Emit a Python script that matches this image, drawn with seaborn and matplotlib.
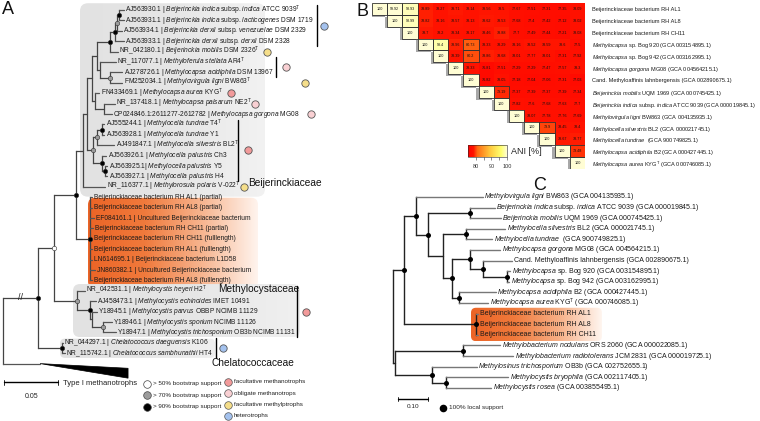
import re
import numpy as np
import pandas as pd
import matplotlib
matplotlib.use("Agg")
import matplotlib.pyplot as plt
import seaborn as sns
from matplotlib.colors import LinearSegmentedColormap, Normalize
from matplotlib.cm import ScalarMappable
from matplotlib.patches import FancyBboxPatch, Rectangle, Polygon

sns.set_theme(style="white")
plt.rcParams["font.family"] = ["Liberation Sans", "DejaVu Sans"]
plt.rcParams["mathtext.fontset"] = "custom"
plt.rcParams["mathtext.rm"] = "Liberation Sans"
plt.rcParams["mathtext.it"] = "Liberation Sans:italic"
plt.rcParams["mathtext.bf"] = "Liberation Sans:bold"

# ---------------- data ----------------
# panel A: 16S rRNA tree (branch lengths in substitutions/site, support: 95 >90%, 75 >70%, 55 >50%)
tree_a = """
((((((((((((a1:0.0046,a2:0.0046)95:0.0019,a3:0.0046)75:0.0019,a4:0.0083)95:0.0046,a5:0.0074)95:0.0120,
(a6:0.0148,(a7:0.0111,a8:0.0111)75:0.0093)0:0.0028)0:0.0046,
(a9:0.0037,(a10:0.0102,a11:0.0074)0:0.0083)0:0.0028)0:0.0046,
(((a12:0.0019,a13:0.0019)95:0.0046,a14:0.0157)75:0.0037,(a15:0.0037,(a16:0.0019,a17:0.0019)95:0.0028)95:0.0083)75:0.0056)0:0.0037,
a18:0.0204)0:0.0065,
(a19:0.0019,a20:0.0019,a21:0.0037,a22:0.0028,a23:0.0019,a24:0.0019,a25:0.0019,a26:0.0046,a27:0.0019)95:0.0130)95:0.0204,
(a28:0.0074,(a29:0.0056,(a30:0.0046,(a31:0.0083,a32:0.0120)75:0.0102)0:0.0019)95:0.0120)75:0.0213)55:0.0148,
(a33:0.0009,a34:0.0028)95:0.0222)95:0.0324,
typeI:0.0343);
"""
typeI_length = 0.0815

labels_a = [
    "AJ563930.1 | *Beijerinckia indica* subsp. *indica* ATCC 9039^T",
    "AJ563931.1 | *Beijerinckia indica* subsp. *lacticogenes* DSM 1719",
    "AJ563934.1 | *Beijerinckia derxii* subsp. *venezuelae* DSM 2329",
    "AJ563933.1 | *Beijerinckia derxii* subsp. *derxii* DSM 2328",
    "NR_042180.1 | *Beijerinckia mobilis* DSM 2326^T",
    "NR_117077.1 | *Methyloferula stellata* AR4^T",
    "AJ278726.1 | *Methylocapsa acidiphila* DSM 13967",
    "FM252034.1 | *Methylovirgula ligni* BW863^T",
    "FN433469.1 | *Methylocapsa aurea* KYG^T",
    "NR_137418.1 | *Methylocapsa palsarum* NE2^T",
    "CP024846.1:2611277-2612782 | *Methylocapsa gorgona* MG08",
    "AJ555244.1 | *Methylocella tundrae* T4^T",
    "AJ563928.1 | *Methylocella tundrae* Y1",
    "AJ491847.1 | *Methylocella silvestris* BL2^T",
    "AJ563926.1 | *Methylocella palustris* Ch3",
    "AJ563925.1| *Methylocella palustris* Y5",
    "AJ563927.1 | *Methylocella palustris* H4",
    "NR_116377.1 | *Methylorosula polaris* V-022^T",
    "Beijerinckiaceae bacterium RH AL1 (partial)",
    "Beijerinckiaceae bacterium RH AL8 (partial)",
    "EF084161.1 | Uncultured Beijerinckiaceae bacterium",
    "Beijerinckiaceae bacterium RH CH11 (partial)",
    "Beijerinckiaceae bacterium RH CH11 (fulllength)",
    "Beijerinckiaceae bacterium RH AL1 (fulllength)",
    "LN614695.1 | Beijerinckiaceae bacterium L1D58",
    "JN860382.1 | Uncultured Beijerinckiaceae bacterium",
    "Beijerinckiaceae bacterium RH AL8 (fulllength)",
    "NR_042531.1 | *Methylocystis heyeri* H2^T",
    "AJ458473.1 | *Methylocystis echinoides* IMET 10491",
    "Y18945.1 | *Methylocystis parvus* OBBP NCIMB 11129",
    "Y18946.1 | *Methylocystis sporium* NCIMB 11126",
    "Y18947.1 | *Methylocystis trichosporium* OB3b NCIMB 11131",
    "NR_044297.1 | *Chelatococcus daeguensis* K106",
    "NR_115742.1 | *Chelatococcus sambhunathii* HT4",
]

troph_colors = {
    "facultative methanotrophs": "#f29a9a",
    "obligate methanotrops": "#f9d0d3",
    "facultative methylptrophs": "#f5de8a",
    "heterotrophs": "#a4c2ee",
}
# (first leaf, last leaf, lifestyle)
groups_a = [
    (0, 3, "heterotrophs"),
    (4, 4, "facultative methylptrophs"),
    (5, 6, "obligate methanotrops"),
    (7, 7, "facultative methylptrophs"),
    (8, 8, "facultative methanotrophs"),
    (9, 9, "obligate methanotrops"),
    (10, 10, "obligate methanotrops"),
    (11, 16, "facultative methanotrophs"),
    (17, 17, "facultative methylptrophs"),
    (27, 31, "facultative methanotrophs"),
    (32, 33, "heterotrophs"),
]
families_a = ["Beijerinckiaceae", "Methylocystaceae", "Chelatococcaceae"]

# panel B: ANI matrix (upper triangle)
ani_labels = [
    "Beijerinckiaceae bacterium RH AL1",
    "Beijerinckiaceae bacterium RH AL8",
    "Beijerinckiaceae bacterium RH CH11",
    "*Methylocapsa* sp. Bog 920 (GCA 003154895.1)",
    "*Methylocapsa* sp. Bog 942 (GCA 003162995.1)",
    "*Methylocapsa gorgona* MG08 (GCA 004564215.1)",
    "Cand. Methyloaffinis lahnbergensis (GCA 002890675.1)",
    "*Beijerinckia mobilis* UQM 1969 (GCA 000745425.1)",
    "*Beijerinckia indica* subsp. *indica* ATCC 9039 (GCA 000019845.1)",
    "*Methylovirgula ligni* BW863 (GCA 004135935.1)",
    "*Methylocella silvestris* BL2 (GCA 000021745.1)",
    "*Methylocella tundrae*  (GCA 900749825.1)",
    "*Methylocapsa acidiphila* B2 (GCA 000427445.1)",
    "*Methylocapsa aurea* KYG^T (GCA 000746085.1)",
]
ani_rows = [
    [100, 99.92, 98.93, 78.89, 78.27, 78.71, 78.14, 78.56, 78.5, 77.67, 77.51, 77.31, 77.35, 78.09],
    [100, 98.99, 78.82, 78.16, 78.57, 78.13, 78.62, 78.53, 77.68, 77.4, 77.42, 77.12, 78.02],
    [100, 78.7, 78.2, 78.34, 78.17, 78.46, 78.88, 77.7, 77.49, 77.44, 77.21, 78.08],
    [100, 98.4, 78.96, 80.73, 78.33, 78.29, 78.16, 78.52, 78.59, 78.6, 77.5],
    [100, 78.39, 80.2, 78.86, 78.68, 78.01, 77.77, 78.01, 77.31, 77.92],
    [100, 78.33, 76.81, 77.51, 77.29, 77.29, 77.47, 77.57, 78.3],
    [100, 76.82, 78.05, 77.18, 77.04, 77.06, 77.31, 77.03],
    [100, 79.19, 77.37, 77.39, 77.37, 77.39, 77.34],
    [100, 77.82, 77.6, 77.68, 77.63, 77.7],
    [100, 78.07, 77.78, 77.76, 77.69],
    [100, 79.9, 78.45, 78.4],
    [100, 78.67, 78.77],
    [100, 79.48],
    [100],
]
ani_ticks = [80, 90, 100]

# panel C: genome tree (support 100 = 100% local support)
tree_c = """
(((c1:0.2233,((c2:0.0833,c3:0.1033)100:0.14,((c4:0.13,c5:0.0867)100:0.0767,
((c6:0.1,(c7:0.0967,(c8:0.01,c9:0.0067)100:0.08)100:0.0433)100:0.06,(c10:0.1233,c11:0.0967)100:0.0233)100:0.03)0:0.05)100:0.04)100:0.04,
(c12:0.0067,c13:0.0067,c14:0.0067)100:0.24)100:0.0367,
((c15:0.1233,c16:0.1667)100:0.2267,(c17:0.15,(c18:0.2067,c19:0.15)100:0.0467)100:0.1233)0:0.0067);
"""
labels_c = [
    "*Methylovirgula ligni* BW863 (GCA 004135935.1)",
    "*Beijerinckia indica* subsp. *indica* ATCC 9039 (GCA 000019845.1)",
    "*Beijerinckia mobilis* UQM 1969 (GCA 000745425.1)",
    "*Methylocella silvestris* BL2 (GCA 000021745.1)",
    "*Methylocella tundrae*  (GCA 900749825.1)",
    "*Methylocapsa gorgona* MG08 (GCA 004564215.1)",
    "Cand. Methyloaffinis lahnbergensis (GCA 002890675.1)",
    "*Methylocapsa* sp. Bog 920 (GCA 003154895.1)",
    "*Methylocapsa* sp. Bog 942 (GCA 003162995.1)",
    "*Methylocapsa acidiphila* B2 (GCA 000427445.1)",
    "*Methylocapsa aurea* KYG^T (GCA 000746085.1)",
    "Beijerinckiaceae bacterium RH AL1",
    "Beijerinckiaceae bacterium RH AL8",
    "Beijerinckiaceae bacterium RH CH11",
    "*Methylobacterium nodulans* ORS 2060 (GCA 000022085.1)",
    "*Methylobacterium radiotolerans* JCM 2831 (GCA 000019725.1)",
    "*Methylosinus trichosporium* OB3b (GCA 002752655.1)",
    "*Methylocystis bryophila* (GCA 002117405.1)",
    "*Methylocystis rosea* (GCA 003855495.1)",
]


# ---------------- helpers ----------------
def rich(s):
    parts = s.split("*")
    out = ""
    for i, p in enumerate(parts):
        if i % 2:
            out += r"$\mathit{" + p.replace(" ", r"\ ") + "}$"
        else:
            out += p
    return out.replace("^T", r"$^{\mathrm{T}}$")


def parse_newick(text):
    s = "".join(text.split()).rstrip(";")
    pos = 0

    def node():
        nonlocal pos
        n = {"children": [], "name": "", "support": 0, "length": 0.0}
        if s[pos] == "(":
            pos += 1
            while True:
                n["children"].append(node())
                ch = s[pos]
                pos += 1
                if ch == ")":
                    break
        lab = re.match(r"[^:,()]*", s[pos:]).group(0)
        pos += len(lab)
        if n["children"]:
            n["support"] = int(lab) if lab else 0
        else:
            n["name"] = lab
        if pos < len(s) and s[pos] == ":":
            pos += 1
            num = re.match(r"[0-9.eE-]+", s[pos:]).group(0)
            n["length"] = float(num)
            pos += len(num)
        return n

    return node()


def layout(root):
    leaves, nodes = [], []

    def walk(n, depth):
        n["x"] = depth + n["length"]
        nodes.append(n)
        if n["children"]:
            for c in n["children"]:
                walk(c, n["x"])
            n["y"] = (n["children"][0]["y"] + n["children"][-1]["y"]) / 2
        else:
            n["y"] = len(leaves)
            leaves.append(n)

    walk(root, 0.0)
    return leaves, nodes


def draw_tree(ax, nodes, lw, leaf_col, inner_col):
    for n in nodes:
        if not n["children"]:
            continue
        ys = [c["y"] for c in n["children"]]
        ax.plot([n["x"], n["x"]], [min(ys), max(ys)], color=inner_col, lw=lw,
                solid_capstyle="projecting", zorder=2)
        for c in n["children"]:
            col = inner_col if c["children"] else leaf_col
            ax.plot([n["x"], c["x"]], [c["y"], c["y"]], color=col, lw=lw, zorder=2)


def grad_box(ax, x0, x1, y0, y1, colors, aspect, r):
    patch = FancyBboxPatch((x0, y0), x1 - x0, y1 - y0,
                           boxstyle=f"round,pad=0,rounding_size={r}",
                           mutation_aspect=aspect, fc="none", ec="none")
    ax.add_patch(patch)
    cm = LinearSegmentedColormap.from_list("g", colors)
    im = ax.imshow(np.linspace(0, 1, 256)[None, :], extent=(x0, x1, y1, y0),
                   cmap=cm, aspect="auto", zorder=0, interpolation="bilinear")
    im.set_clip_path(patch)


# ---------------- figure ----------------
W, H = 760, 421
fig = plt.figure(figsize=(W / 100, H / 100), dpi=100)
LEAF_FS = 4.8

# ---- panel A ----
A_X0, A_PX, A_Y0, A_DY = 3, 1080, 10, 10.4
ax_a = fig.add_axes([0, 0, 360 / W, 1])
ax_a.set_facecolor("none")
root_a = parse_newick(tree_a)
leaves_a, nodes_a = layout(root_a)
asp_a = A_PX / A_DY
px = lambda v: v / A_PX  # pixel length -> branch units
grad_box(ax_a, px(77), px(262), -0.65, 17.95, ["#e2e2e2", "#e6e6e6", "#f2f2f2"], asp_a, px(8))
grad_box(ax_a, px(85), px(255), 18.05, 26.75, ["#ec6426", "#f07a3c", "#f7b48e", "#fff4ee"], asp_a, px(7))
grad_box(ax_a, px(70), px(297), 26.35, 31.45, ["#e2e2e2", "#e6e6e6", "#f0f0f0"], asp_a, px(7))
grad_box(ax_a, px(57), px(212), 31.6, 33.45, ["#e2e2e2", "#e6e6e6", "#f0f0f0"], asp_a, px(5))

draw_tree(ax_a, nodes_a, 0.9, "#555555", "#444444")
sup_col = {95: "black", 75: "#9c9c9c", 55: "white"}
for n in nodes_a:
    if n["support"] in sup_col:
        ax_a.scatter(n["x"], n["y"], s=10, c=sup_col[n["support"]], edgecolors="#333333",
                     linewidths=0.4, zorder=5)
leaf_by_idx = {}
for lf in leaves_a:
    if lf["name"] == "typeI":
        tx, ty = lf["x"], lf["y"]
        ax_a.add_patch(Polygon([(tx, ty), (tx + typeI_length, ty + 0.45),
                                (tx + typeI_length, ty + 1.4)], closed=True,
                               fc="black", ec="black", lw=0.5, zorder=3))
        ax_a.text(tx + px(23), ty + 1.95, "Type I methanotrophs", fontsize=5.5,
                  va="center", ha="left", color="#222")
        continue
    k = int(lf["name"][1:]) - 1
    leaf_by_idx[k] = lf
    ax_a.text(lf["x"] + px(1.5), lf["y"], rich(labels_a[k]), fontsize=LEAF_FS,
              va="center", ha="left", color="#1a1a1a", zorder=3)

# "//" break on the truncated root branch
top = root_a["children"][0]
ax_a.text(top["x"] * 0.5, top["y"], "//", fontsize=6.5, ha="center", va="center",
          color="#222", zorder=4)

# lifestyle circles and brackets
circ_x = [324, 267, 286, 305, 231, 255, 311, 248, 244, 306, 223]
brack_x = [317, None, 276, None, None, None, None, 238, None, 297, 216]
for (g0, g1, cat), cx, bx in zip(groups_a, circ_x, brack_x):
    ymid = (leaf_by_idx[g0]["y"] + leaf_by_idx[g1]["y"]) / 2
    if bx is not None:
        ax_a.plot([px(bx - A_X0)] * 2, [leaf_by_idx[g0]["y"] - 0.45, leaf_by_idx[g1]["y"] + 0.45],
                  color="black", lw=1.0, zorder=3)
    ax_a.scatter(px(cx - A_X0), ymid, s=28, c=troph_colors[cat], edgecolors="#555",
                 linewidths=0.6, zorder=5)

fam_pos = [(248, 16.6), (218, 26.8), (211, 33.9)]
for name, (fx, fy) in zip(families_a, fam_pos):
    ax_a.text(px(fx - A_X0), fy, name, fontsize=7.3, va="center", ha="left", color="#111")

# scale bar
sb_y = 35.8
ax_a.plot([0.001, 0.051], [sb_y, sb_y], color="black", lw=1.0)
for xx in (0.001, 0.051):
    ax_a.plot([xx, xx], [sb_y - 0.25, sb_y + 0.25], color="black", lw=0.6)
ax_a.text(0.026, sb_y + 1.4, "0.05", fontsize=5, ha="center", va="center", color="#222")

ax_a.set_xlim(-A_X0 / A_PX, (360 - A_X0) / A_PX)
ax_a.set_ylim((H - A_Y0) / A_DY, -A_Y0 / A_DY)
ax_a.axis("off")

# ---- panel B: ANI heatmap ----
n_ani = len(ani_labels)
ani = np.full((n_ani, n_ani), np.nan)
for i, row in enumerate(ani_rows):
    ani[i, i:] = row
ani_df = pd.DataFrame(ani, index=ani_labels, columns=ani_labels)
annot = ani_df.map(lambda v: "" if np.isnan(v) else f"{v:g}")
ani_cmap = LinearSegmentedColormap.from_list(
    "ani", [(0, "#ff0000"), (0.14, "#ff1400"), (0.24, "#ff6a12"), (0.55, "#ffc43a"),
            (0.85, "#ffff6e"), (1, "#fffdd4")])

ax_b = fig.add_axes([372 / W, 1 - 169 / H, 213 / W, 166 / H])
for i in range(n_ani):
    ax_b.add_patch(Rectangle((i - 0.14, i + 0.14), 1, 1, fc="#a8a8a8", ec="none", zorder=0.5))
sns.heatmap(ani_df, mask=ani_df.isna(), annot=annot, fmt="", cmap=ani_cmap, vmin=75, vmax=100,
            cbar=False, ax=ax_b, xticklabels=False, yticklabels=[rich(l) for l in ani_labels],
            annot_kws=dict(fontsize=2.7, color="#111"), linewidths=0)
for i in range(n_ani):
    for j in range(i, n_ani):
        if ani[i, j] >= 79:
            ax_b.add_patch(Rectangle((j, i), 1, 1, fill=False, ec="#333", lw=0.6, zorder=3))
ax_b.yaxis.tick_right()
ax_b.tick_params(axis="y", length=0, pad=5, labelsize=4.1, colors="#1a1a1a")
plt.setp(ax_b.get_yticklabels(), rotation=0, ha="left")
for sp in ax_b.spines.values():
    sp.set_visible(False)

ax_cb = fig.add_axes([468 / W, 1 - 157 / H, 39 / W, 12 / H])
cb = fig.colorbar(ScalarMappable(norm=Normalize(75, 100), cmap=ani_cmap), cax=ax_cb,
                  orientation="horizontal", ticks=ani_ticks)
ax_cb.set_xticks([85, 95], minor=True)
ax_cb.tick_params(which="both", labelsize=4, length=2, width=0.4, pad=3, colors="#333")
cb.outline.set_linewidth(0.4)
fig.text(511 / W, 1 - 151 / H, "ANI [%]", fontsize=6.5, va="center", ha="left")

# ---- panel C ----
C_X0, C_PX, C_Y0, C_DY = 393, 300, 197, 10.6
ax_c = fig.add_axes([380 / W, 0, 380 / W, 1 - 185 / H])
ax_c.set_facecolor("none")
root_c = parse_newick(tree_c)
leaves_c, nodes_c = layout(root_c)
cpx = lambda v: v / C_PX
grad_box(ax_c, cpx(78), cpx(209), 10.45, 13.6,
         ["#ec6426", "#f07a3c", "#f6ae84", "#fff6f0"], C_PX / C_DY, cpx(5))
draw_tree(ax_c, nodes_c, 1.0, "#777777", "#222222")
for n in nodes_c:
    if n["support"] == 100:
        ax_c.scatter(n["x"], n["y"], s=13, c="black", zorder=5, linewidths=0)
for lf in leaves_c:
    k = int(lf["name"][1:]) - 1
    ax_c.text(lf["x"] + cpx(1.5), lf["y"], rich(labels_c[k]), fontsize=5.0,
              va="center", ha="left", color="#1a1a1a", zorder=3)
sc_y = 19.05
ax_c.plot([cpx(5), cpx(35)], [sc_y, sc_y], color="black", lw=1.0)
for xx in (cpx(5), cpx(35)):
    ax_c.plot([xx, xx], [sc_y - 0.2, sc_y + 0.2], color="black", lw=0.6)
ax_c.text(cpx(20), sc_y + 0.75, "0.10", fontsize=4.6, ha="center", va="center", color="#222")
ax_c.scatter(cpx(50), sc_y + 0.85, s=30, c="black", linewidths=0)
ax_c.text(cpx(56), sc_y + 0.85, "100% local support", fontsize=4.6, ha="left", va="center")
ax_c.set_xlim(-(C_X0 - 380) / C_PX, (W - C_X0) / C_PX)
ax_c.set_ylim((H - C_Y0) / C_DY, (185 - C_Y0) / C_DY)
ax_c.axis("off")

# ---- overlay: panel letters and legends ----
ax_o = fig.add_axes([0, 0, 1, 1])
ax_o.set_xlim(0, W)
ax_o.set_ylim(H, 0)
ax_o.axis("off")
ax_o.patch.set_alpha(0)
for let, (lx, ly) in zip("ABC", [(2, 10), (357, 12), (533, 185)]):
    ax_o.text(lx, ly, let, fontsize=13, ha="left", va="center", color="#111")

boot = [("white", "> 50% bootstrap support"), ("#9c9c9c", "> 70% bootstrap support"),
        ("black", "> 90% bootstrap support")]
for k, (col, txt) in enumerate(boot):
    yy = 384 + k * 11.3
    ax_o.scatter(147, yy, s=30, c=col, edgecolors="#444", linewidths=0.5)
    ax_o.text(153, yy, txt, fontsize=4.5, va="center", ha="left", color="#222")
for k, (cat, col) in enumerate(troph_colors.items()):
    yy = 382 + k * 11.3
    ax_o.scatter(228, yy, s=30, c=col, edgecolors="#555", linewidths=0.5)
    ax_o.text(234, yy, cat, fontsize=4.5, va="center", ha="left", color="#222")

fig.savefig("out.png", dpi=100)
